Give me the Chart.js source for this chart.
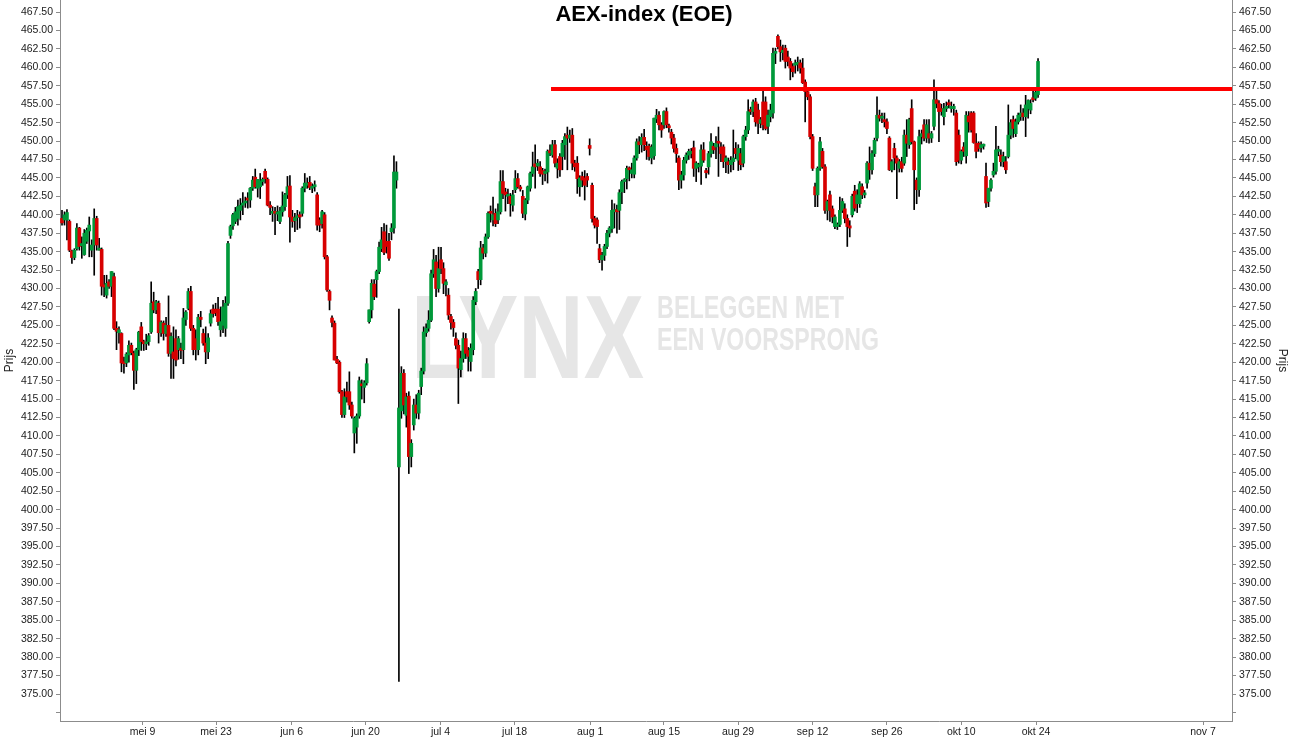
<!DOCTYPE html>
<html>
<head>
<meta charset="utf-8">
<title>AEX-index (EOE)</title>
<script src="https://cdn.jsdelivr.net/npm/chart.js@4.4.1/dist/chart.umd.min.js"></script>
<style>
  html, body { margin: 0; padding: 0; background: #fff; }
  #wrap { width: 1292px; height: 739px; }
</style>
</head>
<body>
<div id="wrap"><canvas id="chart" width="1292" height="739"></canvas></div>
<script>
// candles, 3 per trading day, index 0 = first bar on the left
const opens = [
  439.5,439.3,439.3,439.1,435.1,434.2,435.4,438.2,435.8,434.6,
  436.4,437.8,435.2,435.9,439.5,435.2,435.3,430.5,429.1,430.9,
  430.3,431.6,424.6,424.0,423.9,420.0,419.9,421.0,422.3,421.2,
  418.9,421.7,424.8,422.8,422.5,422.8,424.1,428.2,427.1,428.0,
  424.0,425.3,423.9,425.0,421.2,421.4,423.2,421.7,421.9,421.7,
  425.8,427.3,429.6,424.6,423.2,421.7,426.1,423.9,422.6,421.4,
  425.3,427.2,427.2,427.2,424.4,425.0,424.6,428.0,437.2,438.5,
  439.1,439.5,440.6,441.3,441.6,442.2,442.0,443.6,445.1,443.6,
  443.8,444.5,445.9,444.8,441.3,440.2,440.4,440.1,439.1,440.4,
  441.1,442.7,443.9,439.7,439.2,439.6,440.0,440.2,443.6,444.0,
  444.4,443.6,443.8,442.7,439.3,438.8,440.0,434.3,429.6,426.0,
  425.3,420.4,420.0,416.0,412.9,416.0,416.0,414.2,410.4,411.2,
  412.7,417.0,416.6,417.2,425.5,427.1,430.6,431.2,432.3,435.4,
  437.7,436.4,436.4,437.7,438.2,444.7,405.8,413.4,418.5,412.8,
  415.4,407.2,411.5,414.2,413.1,416.7,418.8,424.0,424.6,425.7,
  432.0,433.6,430.0,433.9,432.7,430.5,429.1,426.2,425.4,423.2,
  422.3,419.0,420.5,423.2,421.6,420.1,421.7,428.2,432.3,431.2,
  435.5,434.8,437.0,440.4,439.3,440.2,439.3,440.4,444.5,443.1,
  442.5,442.5,441.3,443.4,444.9,443.7,442.5,440.1,442.0,443.6,
  445.6,446.9,446.6,446.5,446.0,445.6,445.8,448.7,448.1,449.5,
  446.3,447.9,447.9,449.5,450.8,450.4,450.8,447.0,447.0,443.8,
  445.2,445.0,445.2,449.4,444.0,439.5,439.3,435.4,433.9,434.5,
  435.7,437.5,438.1,440.4,440.7,440.6,443.1,444.5,444.9,446.3,
  445.6,445.5,447.7,449.9,449.5,450.5,449.3,449.3,447.7,448.0,
  453.0,453.5,452.2,452.2,454.0,452.0,451.2,450.4,449.0,447.7,
  444.7,445.4,447.4,448.1,448.3,449.1,446.3,446.5,446.6,448.8,
  446.0,446.5,448.3,449.3,449.2,449.9,449.2,449.2,447.2,447.2,
  446.8,447.2,449.0,447.4,448.3,447.0,450.6,451.5,454.2,454.0,
  455.3,454.2,452.4,455.3,455.3,452.0,453.3,453.8,461.9,464.2,
  462.8,462.0,462.6,461.4,460.8,460.1,460.3,460.4,460.6,459.9,
  458.0,456.7,456.0,450.6,443.8,442.7,446.3,448.6,446.5,440.6,
  442.7,440.8,438.4,438.4,438.7,440.6,440.8,439.5,438.5,440.0,
  443.2,441.5,441.5,443.8,442.7,444.3,447.0,446.1,448.3,450.4,
  453.5,453.1,452.9,452.6,450.4,446.1,449.0,447.7,446.3,447.2,
  447.0,450.8,449.5,454.4,449.9,444.7,443.4,450.6,452.2,450.4,
  451.0,450.4,452.0,455.6,455.1,454.4,453.3,454.4,455.2,454.4,
  454.4,453.8,450.8,447.4,449.2,448.0,453.4,453.8,453.8,449.7,
  449.7,449.1,449.3,445.2,441.8,443.6,445.4,445.9,448.6,448.1,
  447.2,447.2,447.9,450.8,452.9,451.0,452.6,453.3,453.8,453.3,
  454.4,454.2,455.8,455.8,456.3
];
const highs = [
  440.6,440.4,440.7,439.3,435.2,435.4,438.8,438.3,437.0,438.0,
  438.2,439.7,436.6,440.8,439.8,436.8,435.5,431.8,431.8,431.2,
  432.3,432.1,425.5,424.8,424.0,420.7,421.3,422.9,422.6,421.5,
  421.9,424.2,425.4,423.0,423.8,423.9,430.9,429.5,428.4,428.3,
  425.6,425.6,426.1,429.0,424.0,424.8,424.4,423.5,422.6,427.3,
  427.0,430.0,430.3,425.0,424.4,426.5,426.9,424.5,424.8,423.9,
  427.1,427.8,428.0,428.8,427.5,428.4,428.9,436.4,438.6,440.2,
  441.0,442.0,442.2,443.0,442.4,443.0,443.7,445.2,446.2,444.8,
  445.6,445.0,446.2,445.0,441.8,441.1,441.0,441.2,441.0,443.1,
  442.9,445.2,445.3,440.6,440.2,440.6,440.4,443.8,445.6,445.0,
  445.2,444.2,444.6,443.0,439.6,440.6,440.3,434.5,429.8,426.3,
  425.6,420.8,420.2,416.2,416.4,417.3,418.7,414.6,412.6,413.0,
  418.0,417.6,417.5,420.5,427.1,431.2,431.2,432.5,436.3,438.3,
  438.8,438.6,437.5,438.8,448.0,447.2,427.2,419.4,419.0,415.8,
  416.0,409.5,415.0,415.6,416.2,419.2,424.8,425.2,427.0,432.5,
  435.3,434.5,435.6,435.6,433.5,431.2,430.0,426.5,425.8,424.0,
  423.0,421.5,424.0,423.9,422.0,422.5,428.9,430.0,432.6,436.4,
  436.0,437.4,440.4,441.2,442.4,440.8,441.5,446.0,446.0,443.6,
  443.5,442.9,443.3,446.0,445.6,444.0,443.3,442.2,443.9,445.8,
  448.5,449.5,447.5,447.2,446.3,446.2,448.8,449.5,450.1,450.1,
  447.6,448.3,450.1,451.0,451.9,451.5,451.7,447.4,447.9,445.3,
  445.8,446.0,445.6,450.3,444.3,439.8,439.6,436.0,434.9,436.0,
  437.9,438.4,442.0,441.5,441.3,443.4,444.7,444.9,446.6,446.5,
  447.0,448.0,450.3,450.6,451.0,451.6,449.9,449.6,449.5,453.1,
  454.3,454.0,452.5,454.1,454.5,452.3,451.6,450.9,449.6,448.0,
  445.9,447.8,448.4,448.9,449.0,450.0,447.2,447.0,449.5,449.8,
  446.3,448.6,451.0,449.7,450.6,451.9,449.8,449.5,448.0,447.7,
  447.9,451.5,449.8,449.5,449.0,450.8,452.0,455.6,454.6,455.6,
  455.8,455.0,453.2,456.9,456.0,454.2,455.0,462.6,462.6,464.4,
  463.7,463.0,463.0,462.2,461.2,460.5,461.0,461.4,461.0,461.2,
  458.3,457.0,456.3,450.9,444.3,446.5,450.5,449.0,446.8,442.0,
  443.2,441.2,440.0,438.9,442.4,442.2,441.5,440.0,439.2,442.8,
  444.0,443.4,444.5,444.2,443.3,447.2,449.2,448.7,450.4,456.0,
  454.2,453.8,453.8,453.0,450.6,447.5,449.7,448.0,447.5,447.8,
  451.5,452.9,453.1,455.6,450.0,445.0,451.5,451.5,452.9,452.9,
  452.9,451.3,458.3,456.9,455.5,455.0,455.1,455.3,455.6,455.3,
  455.0,454.2,451.5,448.8,449.8,454.0,454.0,454.0,454.0,451.0,
  449.9,449.9,449.6,447.0,443.6,444.9,447.0,452.0,449.3,448.8,
  448.5,447.9,454.9,452.9,453.4,453.0,453.8,454.9,454.4,456.2,
  455.6,455.6,456.8,456.9,461.2
];
const lows = [
  438.6,438.6,436.6,435.0,433.4,433.9,435.2,435.2,434.1,434.5,
  436.1,434.3,434.3,431.8,435.2,435.2,429.1,428.9,428.7,430.0,
  428.9,424.4,421.7,422.6,418.7,418.5,419.4,420.0,421.0,416.3,
  417.1,420.9,421.6,421.6,421.7,422.3,423.9,426.7,426.6,422.6,
  423.5,423.0,423.5,420.8,417.8,417.8,419.5,420.4,420.5,419.8,
  425.0,427.1,424.3,421.0,420.3,421.0,424.8,422.3,419.8,420.5,
  424.9,426.1,426.3,425.0,423.5,424.0,423.5,427.7,436.8,438.0,
  438.8,438.6,439.3,440.0,441.0,440.9,441.0,443.3,443.6,442.4,
  442.2,444.0,444.3,441.2,440.0,439.1,437.3,439.2,438.8,439.8,
  440.6,442.2,436.3,438.3,437.7,438.0,438.2,439.8,443.1,443.6,
  443.4,443.0,443.2,437.9,437.7,438.2,434.0,429.6,427.1,424.8,
  420.3,419.8,415.8,412.5,412.5,414.6,413.6,412.4,407.7,409.0,
  412.4,415.0,414.5,416.9,425.3,426.0,428.5,428.8,432.0,435.0,
  434.6,434.8,433.8,436.6,437.5,443.6,376.7,412.4,413.0,411.2,
  404.9,405.8,410.8,412.4,412.3,415.6,418.4,423.5,424.2,425.5,
  431.5,428.9,429.5,432.0,429.3,429.0,425.8,424.5,423.5,421.8,
  414.4,418.0,420.0,420.5,418.8,418.8,421.0,427.8,430.0,430.5,
  434.0,434.3,436.8,439.0,438.5,438.4,438.8,440.1,442.2,440.5,
  441.5,439.8,440.5,443.0,443.6,443.2,439.6,439.3,441.5,443.2,
  445.2,443.6,446.0,445.2,444.1,444.6,444.3,448.0,447.8,446.5,
  445.0,445.2,446.1,447.5,446.1,449.8,446.1,445.9,442.9,442.5,
  443.8,442.0,443.8,448.1,439.0,438.2,436.1,433.5,432.5,433.8,
  435.4,437.0,437.6,438.2,437.5,438.0,441.5,443.0,443.5,444.6,
  445.0,445.0,447.4,448.3,448.5,448.7,447.5,447.4,446.9,447.5,
  452.5,451.5,450.5,451.7,451.8,451.2,449.6,448.5,447.1,443.4,
  443.6,444.7,447.0,447.5,447.7,445.2,444.5,445.8,444.1,447.1,
  445.0,445.5,447.8,448.3,447.6,445.2,447.2,446.4,445.7,445.6,
  445.8,446.1,447.6,446.0,446.1,446.5,450.1,451.0,453.6,453.3,
  452.0,451.0,451.8,451.5,451.5,451.0,452.6,453.1,460.5,462.5,
  460.8,461.0,459.9,460.2,458.3,458.7,459.2,459.5,459.2,457.8,
  452.6,455.6,450.3,446.0,441.1,441.1,446.0,446.3,440.2,439.3,
  439.1,438.9,438.1,438.0,438.4,440.3,438.9,435.7,437.0,439.7,
  440.5,440.3,441.0,442.2,442.3,443.6,444.8,445.5,447.9,450.0,
  452.7,452.5,451.9,451.0,446.0,445.8,446.1,442.2,445.8,445.8,
  446.7,447.9,449.0,449.6,440.7,441.5,442.5,449.6,450.0,449.8,
  449.7,449.8,451.5,454.5,449.9,453.5,452.2,454.0,454.5,453.9,
  453.5,446.7,447.0,446.9,447.9,447.0,451.2,451.2,449.7,447.7,
  448.6,448.5,448.9,441.0,441.1,443.2,445.1,445.5,448.0,446.6,
  446.5,445.6,447.7,450.3,450.5,450.6,452.3,452.8,452.8,450.6,
  453.1,453.7,455.3,455.5,455.9
];
const closes = [
  438.9,440.0,440.3,435.2,434.2,435.2,438.2,435.7,436.1,437.5,
  437.9,438.6,435.9,439.5,435.9,435.4,430.3,430.2,430.7,430.3,
  432.3,424.6,424.2,424.4,419.9,419.8,421.1,422.3,421.3,418.9,
  421.7,424.1,422.8,422.5,422.7,423.6,428.0,427.1,428.2,424.0,
  425.4,423.9,425.0,421.2,423.5,420.5,420.3,423.2,421.6,426.0,
  426.8,429.6,424.6,421.7,421.7,426.1,425.8,422.6,421.4,423.3,
  426.6,426.6,426.7,425.5,425.5,427.5,428.0,436.1,438.4,440.0,
  440.4,441.1,441.3,441.6,441.8,442.0,443.6,444.7,443.8,444.8,
  444.6,444.8,444.9,441.3,441.0,440.4,440.2,440.4,440.5,441.2,
  442.7,443.8,439.7,439.1,439.6,439.8,439.7,443.6,444.3,444.3,
  443.7,443.8,444.0,438.6,438.6,440.4,434.3,429.8,428.4,425.4,
  420.3,419.9,416.0,412.9,415.3,415.3,414.2,412.7,412.4,412.7,
  417.5,416.8,417.2,419.8,427.1,430.7,428.9,432.3,435.6,436.6,
  434.9,435.7,434.1,438.2,445.8,445.8,413.8,418.5,414.2,415.3,
  407.2,409.0,414.2,413.1,415.8,418.8,424.1,424.6,425.7,432.0,
  433.9,430.0,432.7,432.7,430.7,430.9,426.4,425.4,424.7,422.3,
  419.2,420.5,423.2,421.2,420.8,421.9,428.4,429.6,431.2,435.5,
  434.8,437.0,440.2,440.2,440.0,438.8,440.4,444.5,442.9,442.7,
  442.7,441.5,442.7,444.9,443.8,443.5,440.2,442.0,443.8,445.6,
  446.5,446.5,447.0,445.6,445.5,445.8,448.6,448.4,449.5,447.0,
  447.0,446.1,449.7,450.6,450.4,450.8,447.0,446.5,444.9,445.0,
  444.7,444.0,444.7,449.0,439.5,438.6,438.4,433.9,434.5,435.7,
  437.5,438.2,440.6,440.7,440.4,443.0,444.5,444.7,446.3,446.1,
  446.1,447.7,449.9,449.5,450.5,449.5,448.8,447.9,449.2,453.1,
  453.5,452.2,451.5,454.0,452.2,451.8,450.4,449.0,448.3,444.7,
  445.4,447.4,448.1,448.6,448.6,446.3,447.0,446.8,448.8,447.4,
  445.7,448.3,449.9,448.8,449.7,449.7,448.3,447.2,447.7,446.8,
  447.4,447.7,448.3,449.0,446.8,450.6,451.5,454.0,454.0,455.3,
  452.6,452.4,452.9,452.2,451.7,453.5,454.2,461.9,462.1,462.8,
  462.1,462.3,460.8,460.8,459.9,459.4,460.6,460.6,459.9,457.9,
  456.7,456.0,450.6,446.3,442.7,446.3,449.9,446.5,440.6,441.8,
  440.6,439.7,439.7,438.6,440.6,441.8,439.5,438.4,438.2,442.5,
  440.9,442.7,444.2,442.7,442.9,447.0,446.1,448.3,450.1,453.5,
  453.1,453.3,452.6,451.7,446.1,447.2,447.7,447.0,447.2,446.3,
  450.8,449.7,452.9,449.9,446.1,443.4,450.6,451.0,450.4,452.2,
  450.4,451.0,455.6,455.1,454.0,454.0,454.4,454.7,454.9,454.7,
  454.7,447.2,447.4,448.6,448.6,453.5,452.6,451.5,449.8,448.6,
  449.0,449.5,449.5,441.6,443.6,444.7,445.9,448.8,448.8,447.2,
  447.9,446.1,450.8,452.5,451.7,452.6,453.5,453.8,453.3,454.9,
  455.5,455.1,455.6,456.6,460.8
];

// date labels on the time axis (position in bar units)
const xTickPos = [32.5, 62.2, 92.7, 122.5, 152.8, 182.7, 213.2, 243, 272.9, 303, 333, 363, 393.2, 460.6];
const xTickLabels = ['mei 9', 'mei 23', 'jun 6', 'jun 20', 'jul 4', 'jul 18', 'aug 1', 'aug 15',
                     'aug 29', 'sep 12', 'sep 26', 'okt 10', 'okt 24', 'nov 7'];

// horizontal resistance level
const levelPrice = 457.05;
const levelFrom = 197.4;

const GREEN = '#00993a';
const RED = '#d70000';
const AXIS = '#8c8c8c';
const FONT = "'Liberation Sans', Arial, sans-serif";
const X_MIN = -0.81, X_MAX = 472.3;
const Y_MIN = 371.34, Y_MAX = 469.13;

const bodies = opens.map((o, i) => ({ x: i, y: [o, closes[i]] }));
const wicks = lows.map((l, i) => ({ x: i, y: [l, highs[i]] }));
const bodyColors = opens.map((o, i) => closes[i] >= o ? GREEN : RED);

const watermark = {
    id: 'watermark',
    beforeDatasetsDraw(chart) {
        const { ctx } = chart;
        ctx.save();
        ctx.fillStyle = '#e6e6e6';
        ctx.textBaseline = 'alphabetic';
        ctx.textAlign = 'left';

        // big logo, squeezed to the narrow look of the original
        ctx.font = `bold 119px ${FONT}`;
        let w = ctx.measureText('LYNX').width;
        ctx.save();
        ctx.translate(411, 378);
        ctx.scale(233 / w, 1);
        ctx.fillText('LYNX', 0, 0);
        ctx.restore();

        ctx.font = `bold 31px ${FONT}`;
        w = ctx.measureText('BELEGGEN MET').width;
        ctx.save();
        ctx.translate(657, 318);
        ctx.scale(187 / w, 1);
        ctx.fillText('BELEGGEN MET', 0, 0);
        ctx.restore();

        w = ctx.measureText('EEN VOORSPRONG').width;
        ctx.save();
        ctx.translate(657, 350);
        ctx.scale(222 / w, 1);
        ctx.fillText('EEN VOORSPRONG', 0, 0);
        ctx.restore();

        ctx.restore();
    }
};

const titlePlugin = {
    id: 'topTitle',
    afterDraw(chart) {
        const { ctx } = chart;
        ctx.save();
        ctx.font = `bold 22px ${FONT}`;
        ctx.fillStyle = '#000';
        ctx.textAlign = 'center';
        ctx.textBaseline = 'alphabetic';
        ctx.fillText('AEX-index (EOE)', 644, 21);
        ctx.restore();
    }
};

function priceAxis(position) {
    return {
        type: 'linear',
        position,
        min: Y_MIN,
        max: Y_MAX,
        afterFit: s => { s.width = 60; s.paddingTop = 0; s.paddingBottom = 0; },
        border: { color: AXIS },
        grid: { drawOnChartArea: false, tickLength: 4, color: AXIS },
        ticks: {
            stepSize: 2.5,
            includeBounds: false,
            autoSkip: false,
            padding: 3,
            color: '#1a1a1a',
            font: { family: FONT, size: 10.5 },
            callback: v => v < 374 ? '' : v.toFixed(2)
        },
        title: { display: true, text: 'Prijs', color: '#222', font: { family: FONT, size: 12 }, padding: { top: 2, bottom: 0 } }
    };
}

new Chart(document.getElementById('chart'), {
    type: 'bar',
    data: {
        datasets: [
            {
                type: 'line',
                data: [{ x: levelFrom, y: levelPrice }, { x: X_MAX, y: levelPrice }],
                borderColor: '#ff0000',
                borderWidth: 4,
                pointRadius: 0,
                order: 0
            },
            {
                data: bodies,
                backgroundColor: bodyColors,
                barThickness: 3,
                minBarLength: 2,
                grouped: false,
                order: 1
            },
            {
                data: wicks,
                backgroundColor: '#000',
                barThickness: 1,
                grouped: false,
                order: 2
            }
        ]
    },
    options: {
        responsive: false,
        animation: false,
        events: [],
        layout: { padding: 0 },
        plugins: {
            legend: { display: false },
            tooltip: { enabled: false },
            title: { display: false }
        },
        scales: {
            x: {
                type: 'linear',
                min: X_MIN,
                max: X_MAX,
                offset: false,
                afterFit: s => { s.height = 18; s.paddingLeft = 0; s.paddingRight = 0; },
                afterBuildTicks: s => { s.ticks = xTickPos.map(v => ({ value: v })); },
                border: { color: AXIS },
                grid: { drawOnChartArea: false, tickLength: 4, color: AXIS, offset: false },
                ticks: {
                    autoSkip: false,
                    maxRotation: 0,
                    minRotation: 0,
                    padding: 1,
                    color: '#1a1a1a',
                    font: { family: FONT, size: 10.5 },
                    callback: (v, i) => xTickLabels[i]
                }
            },
            y: priceAxis('left'),
            y2: priceAxis('right')
        }
    },
    plugins: [watermark, titlePlugin]
});
</script>
</body>
</html>
